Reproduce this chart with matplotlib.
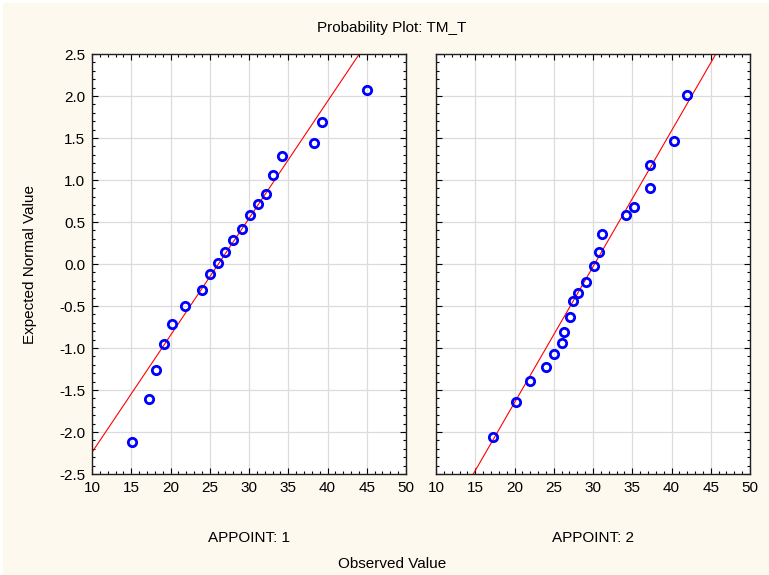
import numpy as np
import matplotlib.pyplot as plt
from matplotlib.patches import Rectangle
from matplotlib.ticker import MultipleLocator, FormatStrFormatter

plt.rcParams['font.family'] = ['Liberation Sans', 'DejaVu Sans']
plt.rcParams['font.size'] = 11

# APPOINT: 1
obs1 = [45.0, 39.3, 38.3, 34.2, 33.1, 32.2, 31.1, 30.1, 29.1, 28.0,
        27.0, 26.0, 25.0, 24.0, 21.9, 20.2, 19.2, 18.2, 17.2, 15.1]
exp1 = [2.07, 1.69, 1.44, 1.28, 1.06, 0.83, 0.71, 0.58, 0.42, 0.29,
        0.14, 0.01, -0.12, -0.31, -0.50, -0.72, -0.95, -1.26, -1.61, -2.12]

# APPOINT: 2
obs2 = [42.0, 40.3, 37.2, 37.2, 35.2, 34.2, 31.1, 30.8, 30.1, 29.1,
        28.1, 27.4, 27.1, 26.3, 26.0, 25.0, 24.0, 22.0, 20.2, 17.2]
exp2 = [2.01, 1.47, 1.18, 0.90, 0.68, 0.58, 0.36, 0.14, -0.02, -0.21,
        -0.34, -0.44, -0.63, -0.81, -0.94, -1.07, -1.23, -1.39, -1.64, -2.06]

# fitted normal (mean, sd) for the reference lines
fit1 = (26.1, 7.18)
fit2 = (30.2, 6.18)

groups = ['APPOINT: 1', 'APPOINT: 2']

W, H = 769, 575
fig = plt.figure(figsize=(W / 100, H / 100), dpi=100, facecolor='white')
fig.patches.append(Rectangle((3 / W, 0), 1, 1 - 3 / H, transform=fig.transFigure,
                             facecolor='#fdf9ee', edgecolor='none', zorder=-10))

def px_axes(x0, x1, y0, y1):
    return fig.add_axes([x0 / W, 1 - y1 / H, (x1 - x0) / W, (y1 - y0) / H])

ax1 = px_axes(92, 406, 54, 474)
ax2 = px_axes(436, 750, 54, 474)

xs = np.array([10.0, 50.0])
for ax, obs, ex, (mu, sd), name in [(ax1, obs1, exp1, fit1, groups[0]),
                                    (ax2, obs2, exp2, fit2, groups[1])]:
    ax.set_facecolor('white')
    ax.plot(xs, (xs - mu) / sd, color='red', lw=0.8, zorder=2)
    ax.plot(obs, ex, 'o', ms=6.0, mfc='none', mec='#0000ff', mew=2.0, zorder=3)
    ax.set_xlim(10, 50)
    ax.set_ylim(-2.5, 2.5)
    ax.xaxis.set_major_locator(MultipleLocator(5))
    ax.xaxis.set_minor_locator(MultipleLocator(1))
    ax.yaxis.set_major_locator(MultipleLocator(0.5))
    ax.yaxis.set_minor_locator(MultipleLocator(0.1))
    ax.yaxis.set_major_formatter(FormatStrFormatter('%.1f'))
    ax.grid(True, which='major', color='#dcdcdc', lw=0.9, zorder=0)
    ax.set_axisbelow(True)
    ax.tick_params(which='both', direction='in', top=True, right=True,
                   color='black', labelsize=11, pad=5)
    ax.tick_params(which='major', length=4, width=0.8)
    ax.tick_params(which='minor', length=2.5, width=0.8)
    for s in ax.spines.values():
        s.set_linewidth(1.0)
        s.set_color('#202020')
    ax.set_xlabel(name, labelpad=26)

ax2.tick_params(labelleft=False)
ax1.set_ylabel('Expected Normal Value', labelpad=16)

fig.text(392 / W, 1 - 28 / H, 'Probability Plot: TM_T', ha='center', va='center')
fig.text(392 / W, 1 - 564 / H, 'Observed Value', ha='center', va='center')

fig.savefig('out.png', dpi=100, facecolor=fig.get_facecolor())
